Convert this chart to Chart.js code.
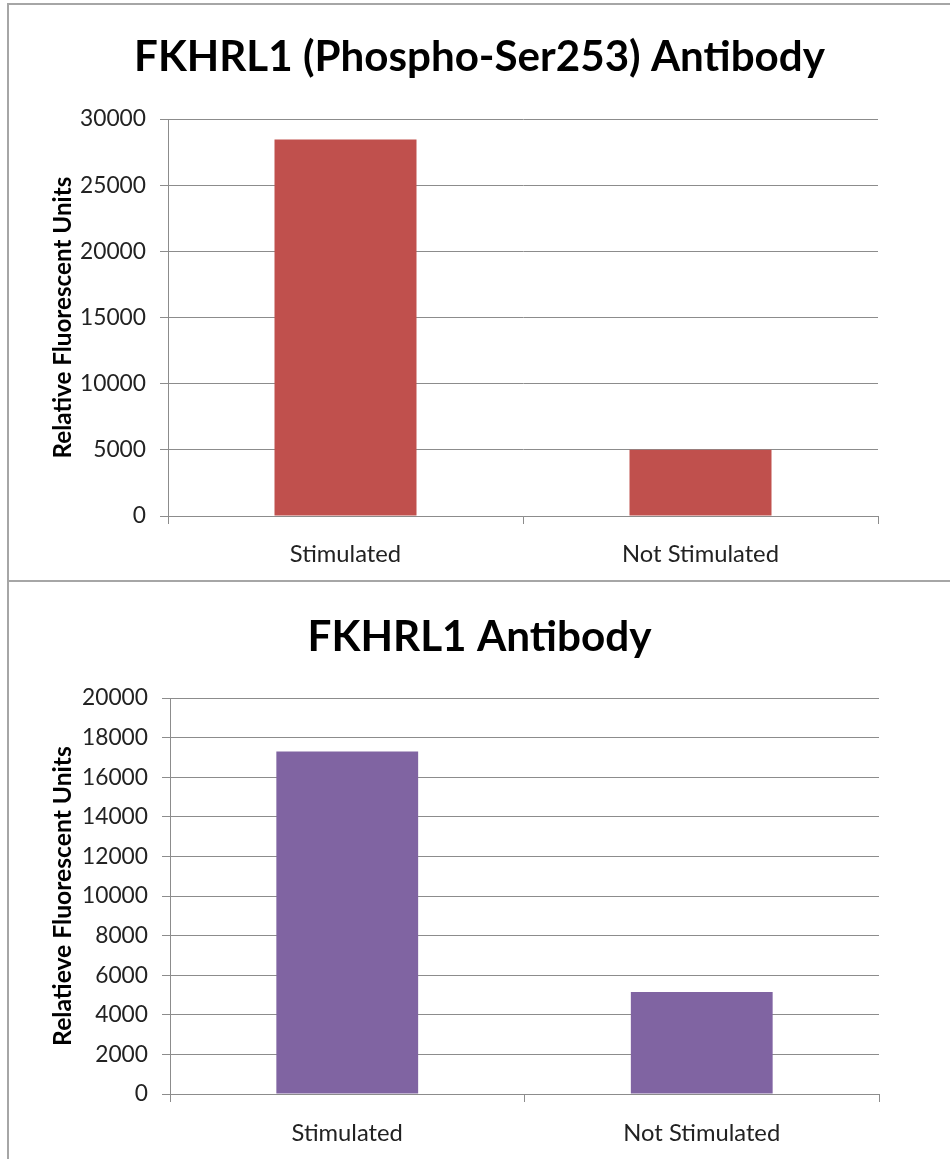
<!DOCTYPE html>
<html><head><meta charset="utf-8">
<script src="https://cdn.jsdelivr.net/npm/chart.js@4"></script>
<style>
html,body{margin:0;padding:0;background:#fff;width:950px;height:1159px;overflow:hidden;}
.frame{position:absolute;border:0 solid #a6a6a6;box-sizing:border-box}
.wrap{position:absolute}
</style></head><body>
<div class="frame" style="left:7px;top:3px;width:960px;height:579px;border-width:2px 0 2px 2px"></div>
<div class="frame" style="left:7px;top:581px;width:960px;height:600px;border-width:0 0 0 2px"></div>
<div class="wrap" style="left:9px;top:5px;width:941px;height:574px"><canvas id="c1"></canvas></div>
<div class="wrap" style="left:9px;top:583px;width:941px;height:576px"><canvas id="c2"></canvas></div>
<script>
// ---- data ----
const categories = ["Stimulated", "Not Stimulated"];
const phosphoValues = [28450, 5000];
const totalValues = [17300, 5150];
const phosphoTitle = "FKHRL1 (Phospho-Ser253) Antibody";
const totalTitle = "FKHRL1 Antibody";
const phosphoYTitle = "Relative Fluorescent Units";
const totalYTitle = "Relatieve Fluorescent Units";
const phosphoYMax = 30000, phosphoYStep = 5000;
const totalYMax = 20000, totalYStep = 2000;

const FAMILY = "Lato";
const mctx = document.createElement('canvas').getContext('2d');
function fit(text, weight, target) {
  mctx.font = weight + " 100px " + FAMILY;
  return 100 * target / mctx.measureText(text).width;
}
const titleSize1 = fit(phosphoTitle, "bold", 691);
const titleSize2 = fit(totalTitle, "bold", 344);
const tickSize = fit("30000", "normal", 66);
const catSize = fit("Not Stimulated", "normal", 157);
const yTitleSize1 = fit(phosphoYTitle, "bold", 282);
const yTitleSize2 = fit(totalYTitle, "bold", 300);

function makeChart(id, title, titleSize, yTitle, yTitleSize, values, color, yMax, yStep, geo) {
  const lh = 1.2;
  return new Chart(document.getElementById(id), {
    type: 'bar',
    data: { labels: categories, datasets: [{ data: values, backgroundColor: color, borderWidth: 0,
      categoryPercentage: 1.0, barPercentage: 0.4, yAxisID: 'y' }] },
    options: {
      responsive: true, maintainAspectRatio: false, animation: false,
      layout: { padding: 0 },
      plugins: {
        legend: { display: false }, tooltip: { enabled: false },
        title: { display: true, text: title, color: '#000',
          font: { family: FAMILY, weight: 'bold', size: titleSize, lineHeight: lh },
          padding: { top: geo.titleY - titleSize * lh / 2, bottom: geo.plotTop - geo.titleY - titleSize * lh / 2 } }
      },
      scales: {
        x: {
          grid: { display: true, drawOnChartArea: false, drawTicks: true, tickLength: 8, color: '#8c8c8c', offset: true },
          border: { color: '#8c8c8c', width: 1 },
          ticks: { color: '#222', font: { family: FAMILY, size: catSize }, padding: geo.xPad, maxRotation: 0 },
          afterFit: s => { s.height = geo.xH; }
        },
        y: {
          min: 0, max: yMax,
          grid: { color: '#8c8c8c', tickLength: 8, lineWidth: 1 },
          border: { color: '#8c8c8c', width: 1 },
          ticks: { stepSize: yStep, color: '#222', font: { family: FAMILY, size: tickSize }, padding: 14,
            callback: v => String(v) },
          title: { display: true, text: yTitle, color: '#000',
            font: { family: FAMILY, weight: 'bold', size: yTitleSize, lineHeight: lh },
            padding: { top: geo.yTitleX - yTitleSize * lh / 2, bottom: 0 } },
          afterFit: s => { s.width = geo.yW; }
        },
        spacer: {
          type: 'linear', position: 'right', display: true,
          grid: { display: false, drawTicks: false }, border: { display: false },
          ticks: { display: false },
          afterFit: s => { s.width = geo.right; }
        }
      }
    }
  });
}

makeChart('c1', phosphoTitle, titleSize1, phosphoYTitle, yTitleSize1, phosphoValues, '#C0504D',
  phosphoYMax, phosphoYStep, { right: 72, titleY: 52, plotTop: 114, xH: 63, xPad: 16, yW: 159, yTitleX: 54 });
makeChart('c2', totalTitle, titleSize2, totalYTitle, yTitleSize2, totalValues, '#8064A2',
  totalYMax, totalYStep, { right: 71, titleY: 54, plotTop: 115, xH: 65, xPad: 17, yW: 161, yTitleX: 54 });
</script>
</body></html>
